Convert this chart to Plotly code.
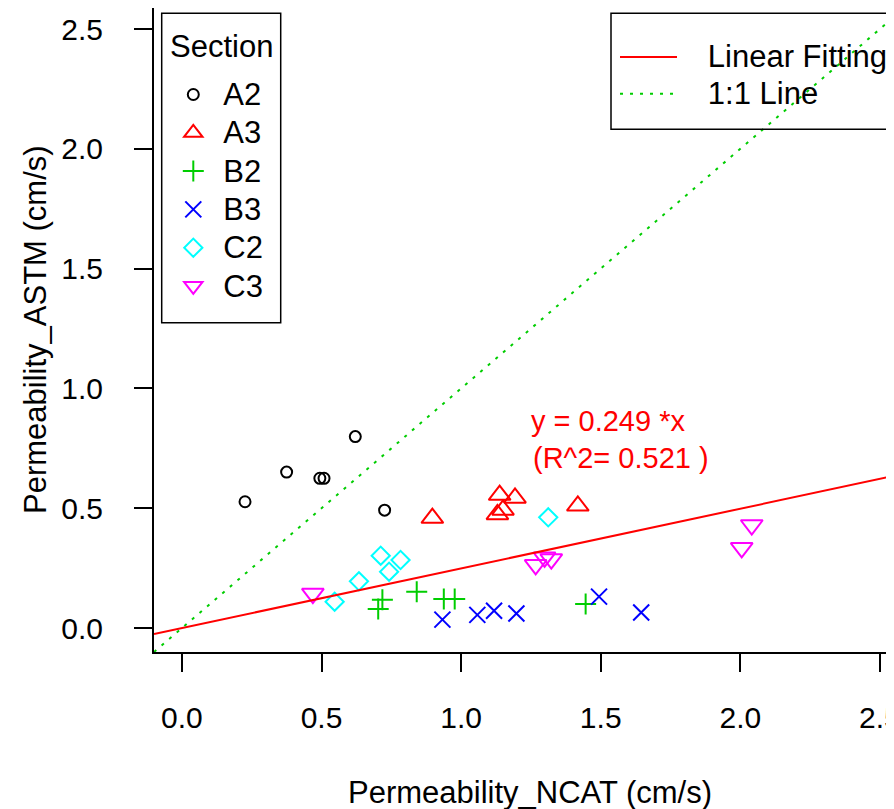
import plotly.graph_objects as go

# ---- data ----
sections = ["A2", "A3", "B2", "B3", "C2", "C3"]
A2_x = [0.226, 0.375, 0.494, 0.509, 0.621, 0.726]
A2_y = [0.527, 0.651, 0.625, 0.625, 0.799, 0.492]
A3_x = [0.897, 1.138, 1.193, 1.150, 1.130, 1.418]
A3_y = [0.459, 0.555, 0.543, 0.493, 0.474, 0.510]
B2_x = [0.703, 0.718, 0.841, 0.938, 0.977, 1.446]
B2_y = [0.079, 0.118, 0.151, 0.121, 0.121, 0.100]
B3_x = [0.933, 1.058, 1.118, 1.198, 1.494, 1.645]
B3_y = [0.035, 0.055, 0.072, 0.061, 0.131, 0.065]
C2_x = [0.547, 0.634, 0.712, 0.742, 0.783, 1.312]
C2_y = [0.110, 0.195, 0.302, 0.235, 0.284, 0.462]
C3_x = [0.469, 1.267, 1.299, 1.323, 2.005, 2.041]
C3_y = [0.144, 0.264, 0.295, 0.288, 0.335, 0.430]
fit_slope = 0.249
fit_r2 = 0.521
tick_vals = [0.0, 0.5, 1.0, 1.5, 2.0, 2.5]
tick_text = ["0.0", "0.5", "1.0", "1.5", "2.0", "2.5"]

xs = [A2_x, A3_x, B2_x, B3_x, C2_x, C3_x]
ys = [A2_y, A3_y, B2_y, B3_y, C2_y, C3_y]

# ---- styles ----
FONT = "Liberation Sans, Arial, sans-serif"
TXT = 31      # legend / axis-title text
TICK = 30     # tick labels
ANN = 29      # equation text
colors = ["#000000", "#FF0000", "#00CD00", "#0000FF", "#00FFFF", "#FF00FF"]
symbols = ["circle-open", "triangle-up-open", "cross-thin-open", "x-thin-open",
           "diamond-open", "triangle-down-open"]
sizes = [11, 19, 15, 16, 14, 19]

# page body has an 8px margin; size the figure so it fills the window
OFF = 8
W, H = 894 - OFF, 809 - OFF
ML, MR, MT, MB = 146, 0, 0, 157
PW, PH = W - ML - MR, H - MT - MB
XR = [-0.1, -0.1 + PW / 279.2]
YR = [-0.1, -0.1 + PH / 239.6]


def sx(X):  # screen x pixel -> paper
    return (X - OFF - ML) / PW


def sy(Y):  # screen y pixel -> paper
    return 1 - (Y - OFF - MT) / PH


def big(t):
    return f'<span style="font-size:{TXT}px">{t}</span>'


fig = go.Figure()
for name, x, y, c, s, sz in zip(sections, xs, ys, colors, symbols, sizes):
    fig.add_trace(go.Scatter(
        x=x, y=y, mode="markers", name=big(name),
        marker=dict(symbol=s, size=sz, color=c, line=dict(color=c, width=2)),
        legend="legend"))

NB = "\u00a0" * 3
fig.add_trace(go.Scatter(
    x=XR, y=[fit_slope * v for v in XR], mode="lines", name=big(NB + "Linear Fitting"),
    line=dict(color="#FF0000", width=2), legend="legend2"))
fig.add_trace(go.Scatter(
    x=XR, y=XR, mode="lines", name=big(NB + "1:1 Line"),
    line=dict(color="#00CD00", width=2, dash="3px,7px"), legend="legend2"))

axis_common = dict(
    showgrid=False, zeroline=False, showline=True, linecolor="black", linewidth=2,
    ticks="outside", ticklen=18, tickwidth=2, tickcolor="black",
    tickvals=tick_vals, ticktext=tick_text,
    tickfont=dict(family=FONT, size=TICK, color="black"),
)

fig.update_layout(
    width=W, height=H,
    margin=dict(l=ML, r=MR, t=MT, b=MB, autoexpand=False),
    plot_bgcolor="white", paper_bgcolor="white",
    font=dict(family=FONT, size=TXT, color="black"),
    xaxis=dict(range=XR, mirror=True, ticklabelstandoff=20,
               ticklabeloverflow="allow", **axis_common),
    yaxis=dict(range=YR, mirror=False, ticklabelstandoff=25,
               ticklabeloverflow="allow", **axis_common),
    showlegend=True,
    legend=dict(
        x=sx(163.3), y=sy(70.35), xanchor="left", yanchor="top",
        borderwidth=0, bgcolor="rgba(0,0,0,0)",
        font=dict(family=FONT, size=27.15, color="black"),
        itemsizing="trace", tracegroupgap=0, itemwidth=50,
    ),
    legend2=dict(
        x=sx(615), y=sy(33.67), xanchor="left", yanchor="top",
        borderwidth=0, bgcolor="rgba(0,0,0,0)",
        font=dict(family=FONT, size=25.9, color="black"),
        itemwidth=57,
    ),
    shapes=[
        dict(type="rect", xref="paper", yref="paper",
             x0=sx(161.7), x1=sx(280.7), y0=sy(322.7), y1=sy(13.3),
             line=dict(color="black", width=1.5), fillcolor="rgba(0,0,0,0)"),
        dict(type="rect", xref="paper", yref="paper",
             x0=sx(611), x1=sx(960), y0=sy(129.3), y1=sy(13.3),
             line=dict(color="black", width=1.5), fillcolor="rgba(0,0,0,0)"),
    ],
    annotations=[
        dict(text="Section", xref="paper", yref="paper",
             x=sx(221.7), y=sy(46.7), xanchor="center", yanchor="middle",
             showarrow=False, font=dict(family=FONT, size=TXT, color="black")),
        dict(text="Permeability_NCAT (cm/s)", xref="paper", yref="paper",
             x=sx(530), y=sy(792), xanchor="center", yanchor="middle",
             showarrow=False, font=dict(family=FONT, size=TXT, color="black")),
        dict(text="Permeability_ASTM (cm/s)", xref="paper", yref="paper",
             x=sx(35), y=sy(330), textangle=-90,
             xanchor="center", yanchor="middle", showarrow=False,
             font=dict(family=FONT, size=TXT, color="black")),
        dict(text=f"y = {fit_slope} *x", xref="x", yref="y",
             x=1.242, y=0.863, xanchor="left", yanchor="middle", showarrow=False,
             font=dict(family=FONT, size=ANN, color="#FF0000")),
        dict(text=f"(R^2= {fit_r2} )", xref="x", yref="y",
             x=1.249, y=0.709, xanchor="left", yanchor="middle", showarrow=False,
             font=dict(family=FONT, size=ANN, color="#FF0000")),
    ],
)

fig.write_html("out.html")
